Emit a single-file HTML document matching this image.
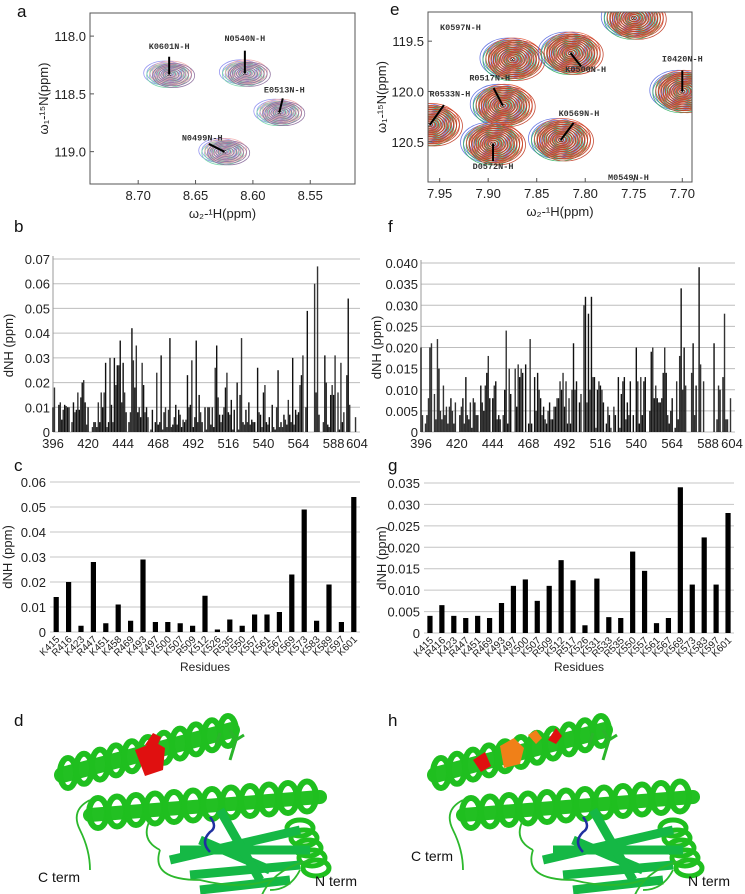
<!DOCTYPE html>
<html><head><meta charset="utf-8">
<style>
html,body{margin:0;padding:0;background:#fff;}
svg{display:block;font-family:"Liberation Sans",Arial,sans-serif;}
.mono{font-family:"Liberation Mono",monospace;font-weight:bold;font-size:8.5px;fill:#333;}
.tick{font-size:13px;fill:#222;}
.ctick{font-size:10px;fill:#222;}
.plab{font-size:17px;fill:#111;}
</style></head>
<body>
<svg id="fig" width="745" height="894" viewBox="0 0 745 894" xmlns="http://www.w3.org/2000/svg">
<text class="plab" x="17" y="17">a</text>
<text class="plab" x="390" y="15">e</text>
<text class="plab" x="14" y="232">b</text>
<text class="plab" x="388" y="232">f</text>
<text class="plab" x="14" y="471">c</text>
<text class="plab" x="388" y="471">g</text>
<text class="plab" x="14" y="726">d</text>
<text class="plab" x="388" y="726">h</text>
<g id="layer"></g>
</svg>
<script>
// ---------- data ----------
const residuesStart = 396;
const shiftB = [0.010,0.018,0,0,0.011,0.012,0.005,0.009,0.011,0.0105,0.010,0.010,0,0.004,0.012,0.008,0.009,0.016,0.009,0.014,0.020,0.021,0.012,0.003,0.010,0,0,0.002,0.004,0.004,0.002,0.012,0.004,0.016,0.010,0.016,0.028,0.002,0.004,0.030,0.011,0.004,0.030,0.019,0.027,0.027,0.037,0.012,0.028,0.016,0.008,0,0.004,0.008,0.042,0.029,0.018,0.035,0.008,0.010,0.006,0.028,0.019,0.008,0.010,0.006,0,0.001,0.009,0,0.004,0.024,0.003,0.004,0.031,0.001,0.008,0.010,0.002,0.009,0.038,0.002,0.003,0.006,0.011,0.003,0.009,0.007,0.002,0.005,0.004,0.005,0.023,0.010,0.011,0.029,0.002,0.006,0.037,0.004,0.015,0.008,0.004,0,0.010,0.001,0.010,0.010,0.003,0.010,0.002,0.026,0.035,0.014,0.007,0.004,0.007,0.010,0.018,0.024,0.008,0.007,0.013,0.001,0.009,0,0.020,0.001,0.015,0.038,0.004,0.003,0.009,0.004,0.012,0.003,0.005,0.004,0.004,0,0.026,0.008,0.007,0.002,0.016,0.019,0.004,0.003,0.006,0,0.011,0.002,0.001,0.010,0.025,0.002,0.004,0.002,0.007,0.005,0.003,0.013,0.007,0.004,0.030,0.003,0.009,0.007,0.008,0.019,0.023,0.031,0,0.010,0.049,0,0,0,0,0.060,0.016,0.067,0.007,0,0,0.004,0.031,0.020,0.003,0.002,0.015,0.019,0.015,0.031,0,0.016,0.001,0.028,0.004,0.008,0,0.023,0.054,0.011,0,0,0,0.006];
const shiftF = [0.020,0.004,0,0.002,0.004,0.008,0.020,0.021,0,0.009,0.003,0.022,0.015,0.005,0.003,0.011,0.004,0.006,0.002,0.006,0.008,0.005,0.002,0.007,0,0,0.004,0.006,0.008,0.002,0.013,0.004,0.003,0.007,0.001,0.008,0.007,0.004,0.004,0,0.011,0.007,0.005,0.011,0.014,0.018,0.008,0,0.008,0.011,0.012,0.003,0.004,0.003,0,0.004,0.010,0.024,0.002,0.015,0.009,0,0,0.015,0.006,0.016,0.013,0.015,0.014,0,0.016,0,0.002,0.022,0.002,0,0.013,0.005,0.014,0.010,0.008,0.004,0.006,0.003,0.002,0.005,0.007,0.003,0.003,0.006,0.006,0.008,0.008,0.012,0.010,0.014,0.006,0.012,0.002,0.008,0.002,0.010,0.021,0.010,0.012,0,0.007,0.009,0,0.030,0.032,0.007,0.028,0.010,0.032,0.013,0.013,0.001,0.010,0.012,0.011,0.010,0.007,0,0.002,0.006,0.004,0.001,0,0.006,0.004,0,0.013,0.001,0.009,0.012,0.013,0.003,0.007,0.004,0.012,0,0.004,0,0.020,0.012,0.002,0.013,0.004,0.012,0.013,0,0,0.005,0.019,0.020,0.008,0.011,0.008,0.007,0.007,0.008,0.014,0.020,0.014,0.004,0.002,0.005,0.008,0,0.001,0.012,0.003,0.018,0.034,0.010,0.020,0.011,0,0,0,0.014,0.021,0.004,0.011,0,0.039,0.016,0,0.012,0,0,0,0,0,0,0.021,0,0.003,0.011,0.010,0,0.013,0.028,0.003,0.003,0,0.008,0];
const xTicksRes = [396,420,444,468,492,516,540,564,588,604];
const yTicksB = [0,0.01,0.02,0.03,0.04,0.05,0.06,0.07];
const yTicksF = [0,0.005,0.010,0.015,0.020,0.025,0.030,0.035,0.040];
const catsC = ["K415","R416","K423","R447","K451","K458","R469","K493","K497","K500","K507","R509","K512","K526","R535","K550","K557","K561","K567","K569","K573","K583","K589","K597","K601"];
const valsC = [0.014,0.020,0.0025,0.028,0.0035,0.011,0.0045,0.029,0.004,0.004,0.0035,0.0025,0.0145,0.001,0.005,0.0025,0.007,0.007,0.008,0.023,0.049,0.0045,0.019,0.004,0.054];
const yTicksC = [0,0.01,0.02,0.03,0.04,0.05,0.06];
const catsG = ["K415","R416","K423","R447","K451","R469","K493","K497","K500","K507","R509","K512","R517","K526","K531","R533","R535","K550","K557","K561","K567","K569","K573","K583","K597","K601"];
const valsG = [0.004,0.0065,0.004,0.0035,0.004,0.0035,0.007,0.011,0.0125,0.0075,0.011,0.017,0.0123,0.0018,0.0127,0.0037,0.0035,0.019,0.0145,0.0023,0.0035,0.034,0.0113,0.0223,0.0113,0.028];
const yTicksG = [0,0.005,0.010,0.015,0.020,0.025,0.030,0.035];
const peaksAName = ["K0601N-H","N0540N-H","E0513N-H","N0499N-H"];
const peaksAH = [8.673,8.607,8.577,8.625];
const peaksAN = [118.33,118.32,118.66,119.0];
const xTicksA = [8.70,8.65,8.60,8.55];
const yTicksA = [118.0,118.5,119.0];
const peaksEName = ["","","K0500N-H","I0420N-H","R0517N-H","R0533N-H","D0572N-H","K0569N-H"];
const peaksEH = [7.75,7.875,7.815,7.70,7.885,7.96,7.895,7.825];
const peaksEN = [119.27,119.68,119.62,120.0,120.14,120.33,120.52,120.48];
const xTicksE = [7.95,7.90,7.85,7.80,7.75,7.70];
const yTicksE = [119.5,120.0,120.5];

// ---------- helpers ----------
const NS="http://www.w3.org/2000/svg";
const layer=document.getElementById('layer');
function mk(tag,attrs,parent){const e=document.createElementNS(NS,tag);for(const k in attrs)e.setAttribute(k,attrs[k]);(parent||layer).appendChild(e);return e;}
function lin(d0,d1,r0,r1){return v=>r0+(v-d0)*(r1-r0)/(d1-d0);}
function fmt(v,d){return v===0?"0":v.toFixed(d);}

// ---------- residue bar charts (b,f) ----------
function resChart(vals,yt,dec,x0,x1,y0,y1,prefix){
  const g=mk('g',{});
  
  
  const xs=lin(396,604,x0,x1), ys=lin(0,yt[yt.length-1],y0,y1);
  yt.forEach(t=>{
    const l=mk('line',{x1:x0,x2:x1+3,y1:ys(t),y2:ys(t),stroke:'#bdbdbd','stroke-width':1},g);
    
    const tx=mk('text',{x:x0-3,y:ys(t)+5,'text-anchor':'end',class:'tick'},g);tx.textContent=fmt(t,dec);
    
  });
  mk('line',{x1:x0,x2:x0,y1:y0,y2:y1-3,stroke:'#999'},g);
  vals.forEach((v,i)=>{
    if(v<=0)return;
    const r=mk('rect',{x:xs(residuesStart+i)-0.7,y:ys(v),width:1.4,height:y0-ys(v),fill:i%2?'#333':'#111'},g);
    
  });
  xTicksRes.forEach(t=>{
    const tx=mk('text',{x:xs(t),y:y0+16,'text-anchor':'middle',class:'tick'},g);tx.textContent=t;
    
  });
  const yl=mk('text',{x:0,y:0,transform:`translate(${x0-40},${(y0+y1)/2}) rotate(-90)`,'text-anchor':'middle',class:'tick'},g);
  yl.textContent='dNH (ppm)';
}
resChart(shiftB,yTicksB,2,53,357,432,259,'panel-b');
resChart(shiftF,yTicksF,3,421,732,432,263,'panel-f');

// ---------- category bar charts (c,g) ----------
function catChart(cats,vals,yt,dec,x0,x1,y0,y1,prefix){
  const g=mk('g',{});
  
  
  const ys=lin(0,yt[yt.length-1],y0,y1), step=(x1-x0)/cats.length;
  yt.forEach(t=>{
    const l=mk('line',{x1:x0,x2:x1,y1:ys(t),y2:ys(t),stroke:'#c4c4c4'},g);
    
    const tx=mk('text',{x:x0-4,y:ys(t)+5,'text-anchor':'end',class:'tick'},g);tx.textContent=fmt(t,dec);
    
  });
  cats.forEach((c,i)=>{
    const cx=x0+step*(i+0.5);
    const r=mk('rect',{x:cx-2.6,y:ys(vals[i]),width:5.2,height:y0-ys(vals[i]),fill:'#000'},g);
    
    const tx=mk('text',{x:0,y:0,transform:`translate(${cx+4},${y0+8}) rotate(-45)`,'text-anchor':'end',class:'ctick'},g);
    tx.textContent=c;
  });
  const yl=mk('text',{x:0,y:0,transform:`translate(${x0-38},${(y0+y1)/2}) rotate(-90)`,'text-anchor':'middle',class:'tick'},g);
  yl.textContent='dNH (ppm)';
  const xl=mk('text',{x:(x0+x1)/2,y:671,'text-anchor':'middle',style:'font-size:12px;fill:#222'},g);
  xl.textContent='Residues';
}
catChart(catsC,valsC,yTicksC,2,50,360,632,482,'panel-c');
catChart(catsG,valsG,yTicksG,3,424,734,633,483,'panel-g');

// ---------- NMR spectra (a,e) ----------
function nmr(names,hs,ns,xt,yt,box,hd,nd,rx,ry,prefix,labelPos,cols,nr){
  const g=mk('g',{});
  
  
  const [bx0,by0,bx1,by1]=box;
  const xs=lin(hd[0],hd[1],bx0,bx1), ys=lin(nd[0],nd[1],by0,by1);
  const cid=prefix+'-clip';
  const cp=mk('clipPath',{id:cid},g);mk('rect',{x:bx0,y:by0,width:bx1-bx0,height:by1-by0},cp);
  const cg=mk('g',{'clip-path':`url(#${cid})`},g);
  hs.forEach((h,i)=>{
    const cx=xs(h),cy=ys(ns[i]);
    const pk=mk('g',{},cg);
    
    cols.forEach((c,k)=>{
      const ox=(k-1.5)*3, oy=(k%2-0.5)*2.5;
      for(let j=1;j<=nr;j++){
        mk('ellipse',{cx:cx+ox*(j/nr),cy:cy+oy*(j/nr),rx:rx*j/nr,ry:ry*j/nr,fill:'none',stroke:c,'stroke-width':0.8,opacity:0.9},pk);
      }
    });
    mk('text',{x:cx,y:cy+3,'text-anchor':'middle',style:'font-size:8px;fill:#222'},pk).textContent='×';
  });
  mk('rect',{x:bx0,y:by0,width:bx1-bx0,height:by1-by0,fill:'none',stroke:'#555','stroke-width':1},g);
  xt.forEach(t=>{
    mk('line',{x1:xs(t),x2:xs(t),y1:by1,y2:by1-4,stroke:'#555'},g);
    const tx=mk('text',{x:xs(t),y:by1+16,'text-anchor':'middle',class:'tick'},g);tx.textContent=t.toFixed(2);
    
  });
  yt.forEach(t=>{
    mk('line',{x1:bx0,x2:bx0+4,y1:ys(t),y2:ys(t),stroke:'#555'},g);
    const tx=mk('text',{x:bx0-4,y:ys(t)+5,'text-anchor':'end',class:'tick'},g);tx.textContent=t.toFixed(1);
    
  });
  names.forEach((n,i)=>{
    if(!n)return;
    const [dx,dy]=labelPos[i];
    const cx=xs(hs[i]),cy=ys(ns[i]);
    mk('line',{x1:cx,y1:cy,x2:cx+dx*0.7,y2:cy+dy*0.7,stroke:'#000','stroke-width':2},g);
    const tx=mk('text',{x:cx+dx,y:cy+dy,'text-anchor':'middle',class:'mono'},g);tx.textContent=n;
    
  });
  const xl=mk('text',{x:(bx0+bx1)/2,y:by1+34,'text-anchor':'middle',style:'font-size:13px;fill:#222'},g);
  xl.textContent='ω\u2082-\u00B9H(ppm)';
  const yl=mk('text',{x:0,y:0,transform:`translate(${bx0-42},${(by0+by1)/2}) rotate(-90)`,'text-anchor':'middle',style:'font-size:13px;fill:#222'},g);
  yl.textContent='ω\u2081-\u00B9\u2075N(ppm)';
}
nmr(peaksAName,peaksAH,peaksAN,xTicksA,yTicksA,[90,13,355,184],[8.742,8.511],[117.80,119.28],21,12,'panel-a',
  [[0,-25],[0,-32],[5,-20],[-22,-11]],['#8c8cf0','#6fd6a6','#f0a8a8','#8a6a9a'],8);
nmr(peaksEName,peaksEH,peaksEN,xTicksE,yTicksE,[428,12,692,182],[7.962,7.690],[119.21,120.90],28,20,'panel-e',
  [[0,0],[0,0],[15,19],[0,-30],[-13,-25],[20,-28],[0,25],[18,-24]],['#5a6ae0','#30b060','#e05030','#c03820'],11);
(function(){const t=mk('text',{x:440,y:30,class:'mono'});t.textContent='K0597N-H';
 
 const t2=mk('text',{x:608,y:180,class:'mono'});t2.textContent='M0549N-H';
 })();

// ---------- protein cartoons (d,h) ----------
function protein(ox,prefix,accent){
  const g=mk('g',{transform:`translate(${ox},0)`});
  
  
  mk('path',{d:'M62,775 l170,-45',stroke:'#22c022','stroke-width':16,fill:'none','stroke-linecap':'round'},g);
  for(let i=0;i<11;i++){mk('ellipse',{cx:68+i*16,cy:773-i*4.2,rx:8,ry:15,fill:'none',stroke:'#1fbf1f','stroke-width':6},g);}
  mk('path',{d:'M90,815 l230,-18',stroke:'#22c022','stroke-width':14,fill:'none','stroke-linecap':'round'},g);
  for(let i=0;i<12;i++){mk('ellipse',{cx:98+i*19,cy:813-i*1.5,rx:9,ry:15,fill:'none',stroke:'#1fbf1f','stroke-width':6},g);}
  for(let i=0;i<5;i++){mk('ellipse',{cx:300+i*4,cy:828+i*10,rx:13,ry:8,fill:'none',stroke:'#1fbf1f','stroke-width':5},g);}
  [[170,860,300,830],[190,875,300,865],[200,840,270,870],[220,810,260,880],[180,850,310,850],[200,890,290,880]].forEach(s=>{
    mk('path',{d:`M${s[0]},${s[1]} L${s[2]},${s[3]}`,stroke:'#15b845','stroke-width':9,fill:'none'},g);
  });
  mk('path',{d:'M90,800 q-20,10 -10,30 q10,20 10,40 M160,850 q-10,30 40,30 q40,10 70,0 M300,870 q-10,20 -30,20 M260,900 q10,-30 50,-40 M150,820 q-10,20 10,30',stroke:'#2cb82c','stroke-width':1.8,fill:'none'},g);
  mk('path',{d:'M210,852 q-10,-10 0,-20 q8,-5 0,-15',stroke:'#2030a0','stroke-width':2.5,fill:'none'},g);
  mk('path',{d:accent[0],fill:accent[1]},g);
  mk('path',{d:'M230,760 l6,-20 l-6,-10 M236,740 l8,-5 M216,745 l4,-12',stroke:'#2ab52a','stroke-width':3,fill:'none'},g);
  const ct=mk('text',{x:38,y:accent[2],style:'font-size:14px;fill:#111'},g);ct.textContent='C term';
  
  const nt=mk('text',{x:315,y:886,style:'font-size:14px;fill:#111'},g);nt.textContent='N term';
  
}
protein(0,'panel-d',['M135,750 l20,-8 l10,6 l-2,22 l-18,6 z M145,745 l8,-12 l8,4 l-4,10 z','#e01010',882]);
protein(373,'panel-h',['M100,760 l12,-8 l6,14 l-10,6 z','#e01010',861]);
(function(){const a=mk('path',{d:'M500,746 l14,-8 l10,10 l-4,16 l-16,4 z M528,735 l8,-5 l6,8 l-6,6 z',fill:'#f08018'});

const b=mk('path',{d:'M548,740 l8,-12 l6,8 l-6,8 z',fill:'#e01010'});
})();
</script>
</body></html>
